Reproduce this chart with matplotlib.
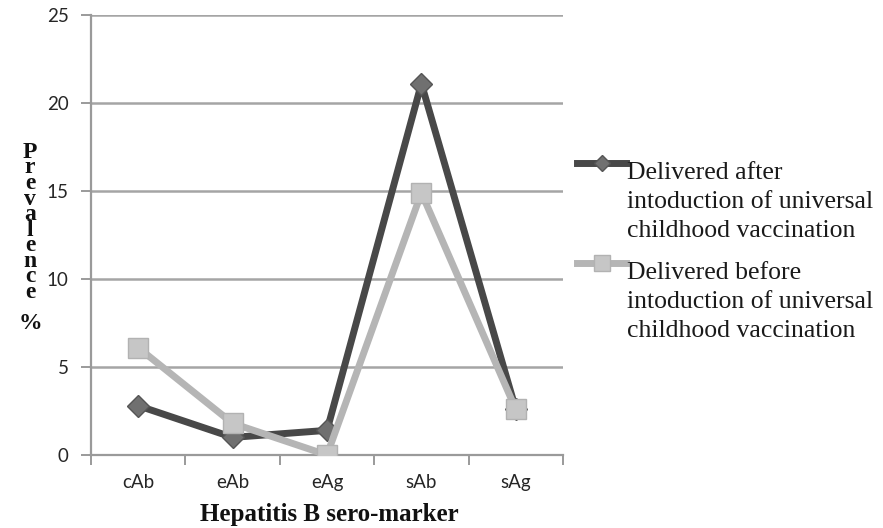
import matplotlib
matplotlib.use("Agg")
import matplotlib.pyplot as plt
from matplotlib.lines import Line2D

categories = ["cAb", "eAb", "eAg", "sAb", "sAg"]
after_vals = [2.8, 1.0, 1.4, 21.1, 2.6]
before_vals = [6.1, 1.8, 0.0, 14.9, 2.6]
series_names = ["Delivered after\nintoduction of universal\nchildhood vaccination",
                "Delivered before\nintoduction of universal\nchildhood vaccination"]
yticks = [0, 5, 10, 15, 20, 25]

W, H = 883, 528
fig = plt.figure(figsize=(W / 100, H / 100), dpi=100)
ax = fig.add_axes([91 / W, 1 - 455 / H, 472 / W, 440 / H])

x = list(range(len(categories)))
dark = "#484848"
light = "#b5b5b5"
ax.plot(x, after_vals, color=dark, lw=5, marker="D", ms=11,
        mfc="#707070", mec="#555555", mew=1, zorder=3)
ax.plot(x, before_vals, color=light, lw=5, marker="s", ms=15,
        mfc="#c6c6c6", mec="#b2b2b2", mew=1, zorder=4)

ax.set_xlim(-0.5, 4.5)
ax.set_ylim(0, 25)
ax.set_yticks(yticks)
ax.set_yticklabels([str(t) for t in yticks])
ax.set_xticks(x)
ax.set_xticklabels(categories)
ax.set_xticks([i + 0.5 for i in range(-1, 5)], minor=True)
ax.tick_params(axis="x", which="major", length=0, pad=14, labelsize=13.5, labelcolor="#262626")
ax.tick_params(axis="x", which="minor", length=7, width=1.4, color="#9a9a9a", direction="out")
ax.tick_params(axis="y", length=7, width=1.4, color="#9a9a9a", pad=9, labelsize=13.5, labelcolor="#262626")
for lbl in ax.get_xticklabels() + ax.get_yticklabels():
    lbl.set_family(["Lato", "DejaVu Sans"])

ax.grid(axis="y", color="#a5a5a5", lw=1.8)
ax.set_axisbelow(True)
for s in ["top", "right"]:
    ax.spines[s].set_visible(False)
for s in ["left", "bottom"]:
    ax.spines[s].set_color("#9a9a9a")
    ax.spines[s].set_linewidth(1.6)

serif = ["Liberation Serif", "DejaVu Serif"]
fig.text(329 / W, 1 - 515 / H, "Hepatitis B sero-marker", ha="center", va="center",
         fontsize=18, fontweight="bold", family=serif, color="#111111")
fig.text(30 / W, 1 - 238 / H, "\n".join("Prevalence") + "\n\n%", ha="center", va="center",
         fontsize=17, fontweight="bold", family=serif, linespacing=0.66, color="#111111")

# legend drawn manually: handle at first line of each entry
leg_specs = [
    (163, dark, "D", 8, "#707070", "#555555"),
    (263, light, "s", 11, "#c6c6c6", "#b2b2b2"),
]
for (hy, col, mk, ms, mfc, mec), name in zip(leg_specs, series_names):
    fig.add_artist(Line2D([577 / W, 626 / W], [1 - hy / H, 1 - hy / H], color=col, lw=5,
                          transform=fig.transFigure))
    fig.add_artist(Line2D([602 / W], [1 - hy / H], marker=mk, ms=ms, mfc=mfc, mec=mec,
                          transform=fig.transFigure))
    fig.text(627 / W, 1 - (hy - 1) / H, name, ha="left", va="top", fontsize=18.5,
             family=serif, linespacing=1.42, color="#1a1a1a")

fig.savefig("out.png", dpi=100)
